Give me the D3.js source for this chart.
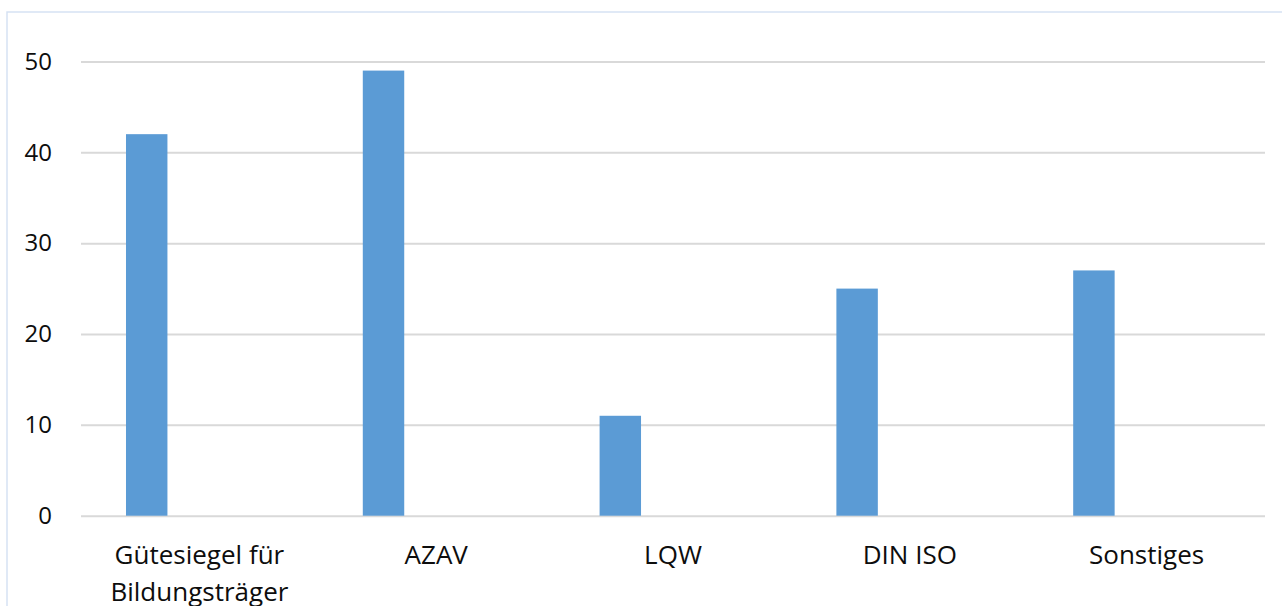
<!DOCTYPE html>
<html lang="de">
<head>
<meta charset="utf-8">
<script src="https://cdn.jsdelivr.net/npm/d3@7"></script>
<style>
  html, body { margin: 0; padding: 0; background: #fff; overflow: hidden; }
  svg { display: block; }
  svg text { font-family: "Open Sans", "Noto Sans", sans-serif; }
</style>
</head>
<body>
<svg id="chart" width="1282" height="606"></svg>
<script>
// Qualitätssiegel / Zertifizierungen – Anzahl der Nennungen
const categories = ["Gütesiegel für Bildungsträger", "AZAV", "LQW", "DIN ISO", "Sonstiges"];
const counts = [42, 49, 11, 25, 27];
const yTicks = [0, 10, 20, 30, 40, 50];

const svg = d3.select("#chart");
const W = 1282, H = 606;
const plot = { left: 81, right: 1265, top: 61.5, bottom: 515.7 };
const FONT = '"Open Sans", "Noto Sans", sans-serif';

// chart area frame (runs off the right/bottom edge)
svg.append("rect")
  .attr("x", 7).attr("y", 12)
  .attr("width", W + 20).attr("height", H + 20)
  .attr("fill", "none")
  .attr("stroke", "#d6e2f3")
  .attr("stroke-width", 1.5);

const x = d3.scaleBand()
  .domain(categories)
  .range([plot.left, plot.right])
  .paddingInner(0).paddingOuter(0);

const y = d3.scaleLinear()
  .domain([0, 50])
  .range([plot.bottom, plot.top]);

// y axis: gridlines + tick labels
const yAxis = svg.append("g")
  .attr("transform", `translate(${plot.left},0)`)
  .call(d3.axisLeft(y)
    .tickValues(yTicks)
    .tickSize(-(plot.right - plot.left))
    .tickPadding(29)
    .tickFormat(d3.format("d")));
yAxis.attr("font-family", FONT);
yAxis.select(".domain").remove();
yAxis.selectAll(".tick line")
  .attr("stroke", "#d9d9d9")
  .attr("stroke-width", 2);
yAxis.selectAll(".tick text")
  .attr("fill", "#0d0d0d")
  .style("font-family", FONT)
  .style("font-size", "24px");

// bars (first slot of each category group)
const bw = x.bandwidth();
svg.append("g")
  .selectAll("rect")
  .data(categories.map((c, i) => ({ c, v: counts[i] })))
  .join("rect")
  .attr("x", d => x(d.c) + bw * 0.19)
  .attr("width", bw * 0.175)
  .attr("y", d => y(d.v))
  .attr("height", d => y(0) - y(d.v))
  .attr("fill", "#5b9bd5");

// x axis labels
const xAxis = svg.append("g")
  .attr("transform", `translate(0,${plot.bottom})`)
  .call(d3.axisBottom(x).tickSize(0).tickPadding(0));
xAxis.attr("font-family", FONT);
xAxis.select(".domain").remove();

const firstLine = 48.5, lineGap = 37;
xAxis.selectAll(".tick text")
  .attr("fill", "#0d0d0d")
  .style("font-family", FONT)
  .style("font-size", "26px")
  .attr("dy", null)
  .attr("y", firstLine)
  .each(function (d) {
    const t = d3.select(this);
    const words = d.split(" ");
    t.text(null);
    let lines = [], cur = [];
    const probe = t.append("tspan");
    words.forEach(w => {
      const trial = cur.concat(w).join(" ");
      probe.text(trial);
      if (probe.node().getComputedTextLength() > 215 && cur.length) {
        lines.push(cur.join(" "));
        cur = [w];
      } else {
        cur.push(w);
      }
    });
    lines.push(cur.join(" "));
    probe.remove();
    lines.forEach((ln, i) => {
      t.append("tspan")
        .attr("x", 0)
        .attr("y", firstLine + i * lineGap)
        .text(ln);
    });
  });
</script>
</body>
</html>
